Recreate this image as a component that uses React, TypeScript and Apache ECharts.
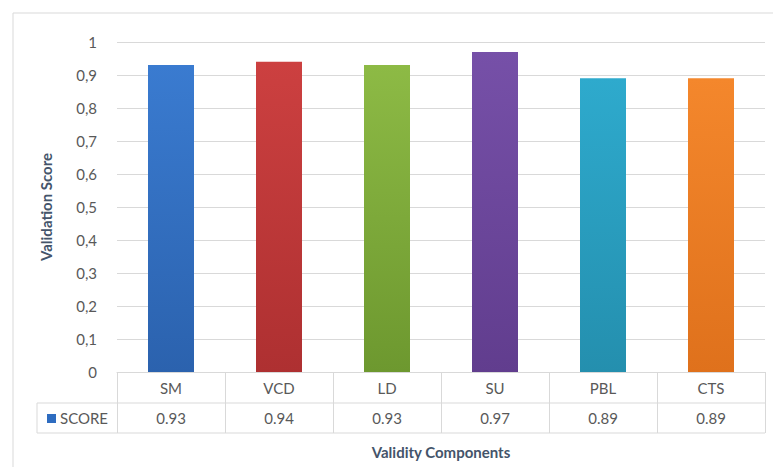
import React, { useEffect, useRef } from "react";
import * as echarts from "echarts";

const categories = ["SM", "VCD", "LD", "SU", "PBL", "CTS"];
const scores = [0.93, 0.94, 0.93, 0.97, 0.89, 0.89];
const seriesName = "SCORE";
const barColors = [
  ["#3a7bd0", "#2b62ae"],
  ["#cc4040", "#ae3031"],
  ["#8dba45", "#6d982f"],
  ["#7650a8", "#613d8e"],
  ["#2eaacd", "#248fae"],
  ["#f4872c", "#df711c"],
];

const FONT = "Lato, 'Open Sans', sans-serif";
const GRID_COLOR = "#d9d9d9";
const TEXT_COLOR = "#595959";
const TITLE_COLOR = "#44546a";

export default function App() {
  const ref = useRef<HTMLDivElement>(null);
  useEffect(() => {
    if (!ref.current) return;
    const chart = echarts.init(ref.current, undefined, { renderer: "svg" });
    chart.setOption({
      animation: false,
      backgroundColor: "#ffffff",
      grid: { left: 117, right: 8, top: 42, bottom: 95 },
      xAxis: {
        type: "category",
        data: categories,
        name: "Validity Components",
        nameLocation: "middle",
        nameGap: 72,
        nameTextStyle: { fontFamily: FONT, fontSize: 15, fontWeight: "bold", color: TITLE_COLOR },
        axisLine: { show: true, lineStyle: { color: GRID_COLOR, width: 1 } },
        axisTick: { show: true, length: 61, interval: 0, lineStyle: { color: GRID_COLOR } },
        axisLabel: {
          interval: 0,
          margin: 1,
          formatter: (value: string, index: number) =>
            `{c|${value}}\n{v|${scores[index].toFixed(2)}}`,
          rich: {
            c: { fontFamily: FONT, fontSize: 15, color: TEXT_COLOR, lineHeight: 30, height: 30 },
            v: { fontFamily: FONT, fontSize: 15, color: TEXT_COLOR, lineHeight: 30, height: 30 },
          },
        },
      },
      yAxis: {
        type: "value",
        min: 0,
        max: 1,
        interval: 0.1,
        name: "Validation Score",
        nameLocation: "middle",
        nameGap: 64,
        nameRotate: 90,
        nameTextStyle: { fontFamily: FONT, fontSize: 15, fontWeight: "bold", color: TITLE_COLOR },
        axisLine: { show: false },
        axisTick: { show: false },
        axisLabel: {
          margin: 20,
          fontFamily: FONT,
          fontSize: 15,
          color: TEXT_COLOR,
          formatter: (v: number) => String(Math.round(v * 10) / 10).replace(".", ","),
        },
        splitLine: { show: true, lineStyle: { color: GRID_COLOR, width: 1 } },
      },
      series: [
        {
          name: seriesName,
          type: "bar",
          barWidth: 46,
          data: scores.map((v, i) => ({
            value: v,
            itemStyle: {
              color: new echarts.graphic.LinearGradient(0, 0, 0, 1, [
                { offset: 0, color: barColors[i][0] },
                { offset: 1, color: barColors[i][1] },
              ]),
            },
          })),
        },
      ],
      graphic: [
        {
          type: "rect",
          shape: { x: 13, y: 13, width: 770, height: 470 },
          style: { fill: "none", stroke: "#d9d9d9", lineWidth: 1 },
          silent: true,
        },
        {
          type: "line",
          shape: { x1: 37, y1: 403, x2: 765, y2: 403 },
          style: { stroke: GRID_COLOR, lineWidth: 1 },
          silent: true,
        },
        {
          type: "line",
          shape: { x1: 37, y1: 433, x2: 765, y2: 433 },
          style: { stroke: GRID_COLOR, lineWidth: 1 },
          silent: true,
        },
        {
          type: "line",
          shape: { x1: 37, y1: 403, x2: 37, y2: 433 },
          style: { stroke: GRID_COLOR, lineWidth: 1 },
          silent: true,
        },
        {
          type: "rect",
          shape: { x: 47, y: 414, width: 9, height: 9 },
          style: { fill: "#2e6cc0" },
          silent: true,
        },
        {
          type: "text",
          x: 60,
          y: 418,
          style: {
            text: seriesName,
            fontFamily: FONT,
            fontSize: 15,
            fill: TEXT_COLOR,
            verticalAlign: "middle",
            align: "left",
          },
          silent: true,
        },
      ],
    });
    return () => chart.dispose();
  }, []);
  return (
    <div
      ref={ref}
      style={{ position: "fixed", left: 0, top: 0, width: 773, height: 467 }}
    />
  );
}
